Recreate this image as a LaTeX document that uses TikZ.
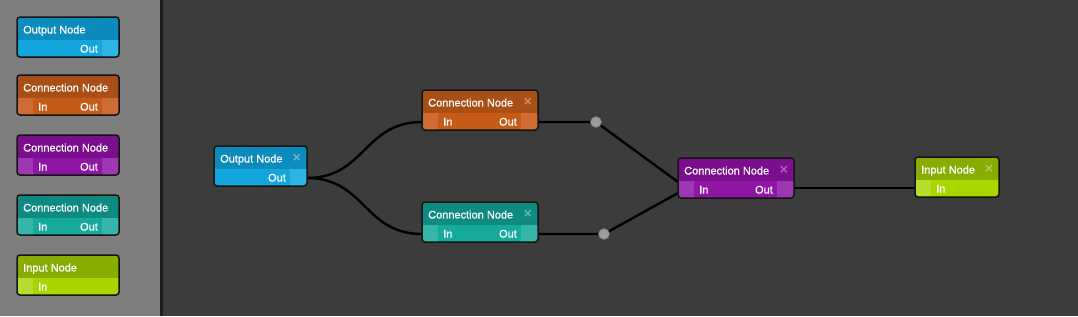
\documentclass[tikz,border=0pt]{standalone}
\usepackage{fontspec}
\setmainfont{Liberation Sans}
\newfontfamily\uifont[FakeBold=0.7]{Liberation Sans}
\newfontfamily\symfont{DejaVu Sans}
\definecolor{sidebg}{HTML}{7E7E7E}
\definecolor{canvasbg}{HTML}{3C3C3C}
\definecolor{sepcol}{HTML}{1C1C1C}
\definecolor{blueT}{HTML}{0B8CBD}\definecolor{blueB}{HTML}{12A6DC}\definecolor{blueS}{HTML}{2DB3E4}
\definecolor{oranT}{HTML}{A94E15}\definecolor{oranB}{HTML}{C65A17}\definecolor{oranS}{HTML}{D06C33}
\definecolor{purpT}{HTML}{7B0E8C}\definecolor{purpB}{HTML}{8F16A5}\definecolor{purpS}{HTML}{9C38B1}
\definecolor{tealT}{HTML}{0F8A80}\definecolor{tealB}{HTML}{16AA9C}\definecolor{tealS}{HTML}{36B6AA}
\definecolor{grenT}{HTML}{88AD00}\definecolor{grenB}{HTML}{A8D700}\definecolor{grenS}{HTML}{B5DD2C}
\definecolor{dotcol}{HTML}{9C9C9C}
\newif\ifhasin
\newif\ifhasout
\pgfdeclarelayer{bg}
\pgfsetlayers{bg,main}
\tikzset{
  x=1pt, y=-1pt,
  settcol/.code={\colorlet{curT}{#1}},
  setbcol/.code={\colorlet{curB}{#1}},
  setscol/.code={\colorlet{curS}{#1}},
  hasin/.code={\hasintrue},
  hasout/.code={\hasouttrue},
  gbox/.style={/utils/exec={\hasinfalse\hasoutfalse},
    draw=black!92, line width=1.5pt, rounded corners=3pt, minimum height=40pt,
    inner sep=0pt, outer sep=0pt, anchor=north west,
    path picture={
      \fill[fill=curB, sharp corners] (path picture bounding box.south west) rectangle (path picture bounding box.north east);
      \fill[fill=curT, sharp corners] (path picture bounding box.north west) rectangle ([yshift=-23pt]path picture bounding box.north east);
      \ifhasin
        \fill[fill=curS, sharp corners] (path picture bounding box.south west) rectangle ([xshift=16pt,yshift=-23pt]path picture bounding box.north west);
      \fi
      \ifhasout
        \fill[fill=curS, sharp corners] (path picture bounding box.south east) rectangle ([xshift=-17pt,yshift=-23pt]path picture bounding box.north east);
      \fi
    }},
  ttl/.style={anchor=base west, text=white, inner sep=0pt, font=\uifont\fontsize{11}{13}\selectfont},
  prt/.style={text=white, inner sep=0pt, font=\uifont\fontsize{11}{13}\selectfont},
  cls/.style={text=white, text opacity=0.4, inner sep=0pt, font=\symfont\bfseries\fontsize{12}{14}\selectfont},
  wire/.style={draw=black, line width=2.4pt},
  dot/.style={circle, fill=dotcol, draw=black!55, line width=0.6pt, minimum size=11pt, inner sep=0pt},
}
\begin{document}
\begin{tikzpicture}
\useasboundingbox (0,0) rectangle (1078,316);
\begin{pgfonlayer}{bg}
  \fill[sidebg] (0,0) rectangle (160,316);
  \fill[sepcol] (160,0) rectangle (163,316);
  \fill[canvasbg] (163,0) rectangle (1078,316);
\end{pgfonlayer}

% ---------- sidebar ----------
\node[gbox, hasout, settcol=blueT, setbcol=blueB, setscol=blueS, minimum width=102pt] (s1) at (17,17) {};
\node[ttl] at ([xshift=6pt,yshift=-16.5pt]s1.north west) {Output Node};
\node[prt, anchor=base east] at ([xshift=-21pt,yshift=-35.5pt]s1.north east) {Out};

\node[gbox, hasin, hasout, settcol=oranT, setbcol=oranB, setscol=oranS, minimum width=102pt] (s2) at (17,75) {};
\node[ttl] at ([xshift=6pt,yshift=-16.5pt]s2.north west) {Connection Node};
\node[prt, anchor=base west] at ([xshift=21pt,yshift=-35.5pt]s2.north west) {In};
\node[prt, anchor=base east] at ([xshift=-21pt,yshift=-35.5pt]s2.north east) {Out};

\node[gbox, hasin, hasout, settcol=purpT, setbcol=purpB, setscol=purpS, minimum width=102pt] (s3) at (17,135) {};
\node[ttl] at ([xshift=6pt,yshift=-16.5pt]s3.north west) {Connection Node};
\node[prt, anchor=base west] at ([xshift=21pt,yshift=-35.5pt]s3.north west) {In};
\node[prt, anchor=base east] at ([xshift=-21pt,yshift=-35.5pt]s3.north east) {Out};

\node[gbox, hasin, hasout, settcol=tealT, setbcol=tealB, setscol=tealS, minimum width=102pt] (s4) at (17,195) {};
\node[ttl] at ([xshift=6pt,yshift=-16.5pt]s4.north west) {Connection Node};
\node[prt, anchor=base west] at ([xshift=21pt,yshift=-35.5pt]s4.north west) {In};
\node[prt, anchor=base east] at ([xshift=-21pt,yshift=-35.5pt]s4.north east) {Out};

\node[gbox, hasin, settcol=grenT, setbcol=grenB, setscol=grenS, minimum width=102pt] (s5) at (17,255) {};
\node[ttl] at ([xshift=6pt,yshift=-16.5pt]s5.north west) {Input Node};
\node[prt, anchor=base west] at ([xshift=21pt,yshift=-35.5pt]s5.north west) {In};

% ---------- canvas ----------
\node[gbox, hasout, settcol=blueT, setbcol=blueB, setscol=blueS, minimum width=93pt] (outn) at (214,146) {};
\node[ttl] at ([xshift=6pt,yshift=-16.5pt]outn.north west) {Output Node};
\node[cls] at ([xshift=-10pt,yshift=-12pt]outn.north east) {×};
\node[prt, anchor=base east] at ([xshift=-21pt,yshift=-35.5pt]outn.north east) {Out};

\node[gbox, hasin, hasout, settcol=oranT, setbcol=oranB, setscol=oranS, minimum width=116pt] (con1) at (422,90) {};
\node[ttl] at ([xshift=6pt,yshift=-16.5pt]con1.north west) {Connection Node};
\node[cls] at ([xshift=-10pt,yshift=-12pt]con1.north east) {×};
\node[prt, anchor=base west] at ([xshift=21pt,yshift=-35.5pt]con1.north west) {In};
\node[prt, anchor=base east] at ([xshift=-21pt,yshift=-35.5pt]con1.north east) {Out};

\node[gbox, hasin, hasout, settcol=tealT, setbcol=tealB, setscol=tealS, minimum width=116pt] (con2) at (422,202) {};
\node[ttl] at ([xshift=6pt,yshift=-16.5pt]con2.north west) {Connection Node};
\node[cls] at ([xshift=-10pt,yshift=-12pt]con2.north east) {×};
\node[prt, anchor=base west] at ([xshift=21pt,yshift=-35.5pt]con2.north west) {In};
\node[prt, anchor=base east] at ([xshift=-21pt,yshift=-35.5pt]con2.north east) {Out};

\node[gbox, hasin, hasout, settcol=purpT, setbcol=purpB, setscol=purpS, minimum width=116pt] (con3) at (678,158) {};
\node[ttl] at ([xshift=6pt,yshift=-16.5pt]con3.north west) {Connection Node};
\node[cls] at ([xshift=-10pt,yshift=-12pt]con3.north east) {×};
\node[prt, anchor=base west] at ([xshift=21pt,yshift=-35.5pt]con3.north west) {In};
\node[prt, anchor=base east] at ([xshift=-21pt,yshift=-35.5pt]con3.north east) {Out};

\node[gbox, hasin, settcol=grenT, setbcol=grenB, setscol=grenS, minimum width=84pt] (inn) at (915,157) {};
\node[ttl] at ([xshift=6pt,yshift=-16.5pt]inn.north west) {Input Node};
\node[cls] at ([xshift=-10pt,yshift=-12pt]inn.north east) {×};
\node[prt, anchor=base west] at ([xshift=21pt,yshift=-35.5pt]inn.north west) {In};

% ---------- port coordinates ----------
\coordinate (outnO) at ([yshift=-32pt]outn.north east);
\coordinate (con1I) at ([yshift=-32pt]con1.north west);
\coordinate (con1O) at ([yshift=-32pt]con1.north east);
\coordinate (con2I) at ([yshift=-32pt]con2.north west);
\coordinate (con2O) at ([yshift=-32pt]con2.north east);
\coordinate (con3Ia) at ([yshift=-24pt]con3.north west);
\coordinate (con3Ib) at ([yshift=-35pt]con3.north west);
\coordinate (con3O) at ([yshift=-30pt]con3.north east);
\coordinate (innI) at ([yshift=-31pt]inn.north west);
\node[dot] (d1) at (596,122) {};
\node[dot] (d2) at (604,234) {};

\begin{pgfonlayer}{bg}
  \draw[wire] (outnO) .. controls +(58,0) and +(-58,0) .. (con1I);
  \draw[wire] (outnO) .. controls +(58,0) and +(-58,0) .. (con2I);
  \draw[wire] (con1O) -- (d1.center) -- (con3Ia);
  \draw[wire] (con2O) -- (d2.center) -- (con3Ib);
  \draw[wire] (con3O) -- (innI);
\end{pgfonlayer}
\end{tikzpicture}
\end{document}
